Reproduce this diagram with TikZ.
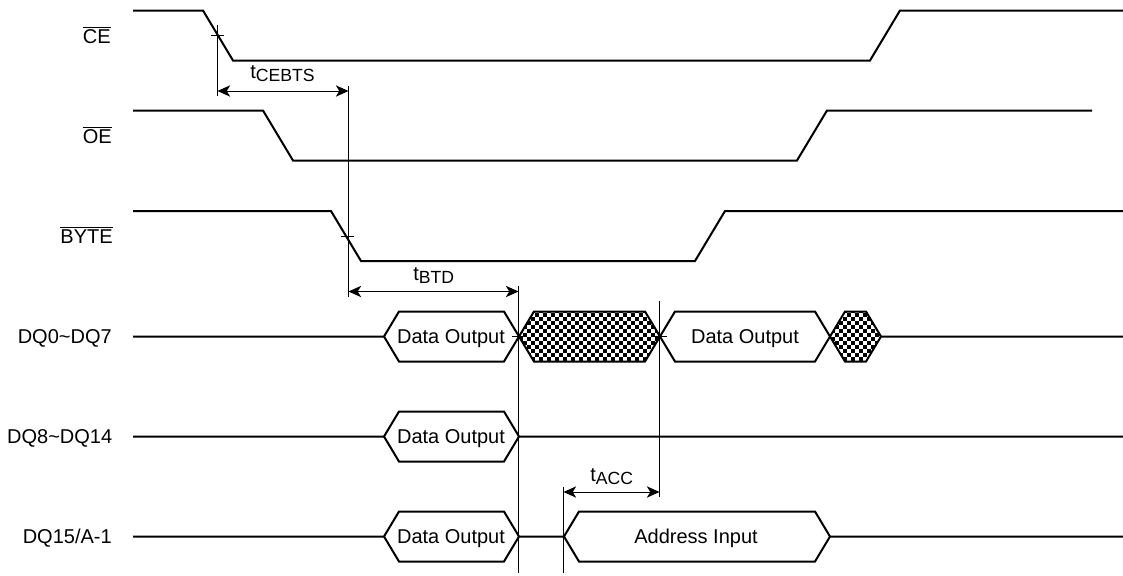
\documentclass[tikz,border=0pt]{standalone}
\usepackage{fontspec}
\setmainfont{Liberation Sans}
\usetikzlibrary{arrows.meta}
\newcommand{\bigtxt}{\fontsize{15}{18}\selectfont}
\newcommand{\subtxt}[1]{{\fontsize{13.2}{15}\selectfont\raisebox{-2.4pt}{#1}}}
\tikzset{
  wave/.style={line width=1.5pt,line join=miter,miter limit=3},
  thinline/.style={line width=0.75pt,draw=black},
  dim/.style={line width=0.75pt,{Stealth[length=9.5pt,width=8.5pt,inset=2.6pt]}-{Stealth[length=9.5pt,width=8.5pt,inset=2.6pt]}},
  siglabel/.style={anchor=base east,inner sep=0pt,font=\bigtxt},
  boxlabel/.style={anchor=base,inner sep=0pt,font=\bigtxt},
  timelabel/.style={anchor=base west,inner sep=0pt,font=\bigtxt}
}
\begin{document}
\begin{tikzpicture}[x=0.75pt,y=-0.75pt]
\useasboundingbox (0,0) rectangle (1123,575);
% checker fills
\begin{scope}
  \clip (519,336.5) -- (534,311.5) -- (645,311.5) -- (660,336.5) -- (645,361.5) -- (534,361.5) -- cycle;
  \foreach \i in {0,...,36}{\foreach \j in {0,...,13}{
    \pgfmathtruncatemacro{\p}{mod(\i+\j,2)}
    \ifnum\p=0 \fill (515+4*\i,309+4*\j) rectangle +(3.6,3.6);\fi}}
\end{scope}
\begin{scope}
  \clip (830,336.5) -- (845,311.5) -- (866,311.5) -- (881,336.5) -- (866,361.5) -- (845,361.5) -- cycle;
  \foreach \i in {0,...,14}{\foreach \j in {0,...,13}{
    \pgfmathtruncatemacro{\p}{mod(\i+\j,2)}
    \ifnum\p=0 \fill (827+4*\i,309+4*\j) rectangle +(3.6,3.6);\fi}}
\end{scope}
% digital lines
\draw[wave] (133,10.5) -- (203,10.5) -- (233,60.5) -- (870,60.5) -- (900,10.5) -- (1123,10.5);
\draw[wave] (133,110.5) -- (263,110.5) -- (293,160.5) -- (797,160.5) -- (827,110.5) -- (1092,110.5);
\draw[wave] (133,211) -- (331,211) -- (361,261) -- (695,261) -- (725,211) -- (1123,211);
% DQ0~DQ7
\draw[wave] (133,336.5) -- (384,336.5) -- (399,311.5) -- (504,311.5) -- (534,361.5) -- (645,361.5) -- (675,311.5) -- (815,311.5) -- (845,361.5) -- (866,361.5) -- (881,336.5) -- (1123,336.5);
\draw[wave] (384,336.5) -- (399,361.5) -- (504,361.5) -- (534,311.5) -- (645,311.5) -- (675,361.5) -- (815,361.5) -- (845,311.5) -- (866,311.5) -- (881,336.5);
% DQ8~DQ14
\draw[wave] (133,436.5) -- (384,436.5) -- (399,411.5) -- (504,411.5) -- (519,436.5) -- (1123,436.5);
\draw[wave] (384,436.5) -- (399,461.5) -- (504,461.5) -- (519,436.5);
% DQ15/A-1
\draw[wave] (133,536.5) -- (384,536.5) -- (399,511.5) -- (504,511.5) -- (519,536.5) -- (564,536.5) -- (579,511.5) -- (815,511.5) -- (830,536.5) -- (1123,536.5);
\draw[wave] (384,536.5) -- (399,561.5) -- (504,561.5) -- (519,536.5);
\draw[wave] (564,536.5) -- (579,561.5) -- (815,561.5) -- (830,536.5);
% timing reference lines
\coordinate (a1) at (217.5,25);   \coordinate (a2) at (217.5,96);
\coordinate (b1) at (348.5,86);   \coordinate (b2) at (348.5,297);
\coordinate (c1) at (518.5,286);  \coordinate (c2) at (518.5,573);
\coordinate (d1) at (659.5,301);  \coordinate (d2) at (659.5,497);
\coordinate (e1) at (563.5,487);  \coordinate (e2) at (563.5,573);
\draw[thinline] (a1) -- (a2);
\draw[thinline] (b1) -- (b2);
\draw[thinline] (c1) -- (c2);
\draw[thinline] (d1) -- (d2);
\draw[thinline] (e1) -- (e2);
\draw[thinline] (211,35.5) -- (224,35.5);
\draw[thinline] (341,236) -- (354,236);
\draw[thinline] (512,336.5) -- (526,336.5);
\draw[thinline] (653,336.5) -- (667,336.5);
% dimension arrows
\draw[dim] (a1 |- 0,91) -- (b1 |- 0,91);
\draw[dim] (b1 |- 0,291.5) -- (c1 |- 0,291.5);
\draw[dim] (e1 |- 0,492) -- (d1 |- 0,492);
% timing labels
\node[timelabel] (tcebts) at (250,78.5) {t\subtxt{CEBTS}};
\node[timelabel] (tbtd) at (413,280.5) {t\subtxt{BTD}};
\node[timelabel] (tacc) at (590,481.5) {t\subtxt{ACC}};
% signal labels
\node[siglabel] (ce) at (111,43.5) {$\overline{\mbox{CE}}$};
\node[siglabel] (oe) at (112,143.5) {$\overline{\mbox{OE}}$};
\node[siglabel] (byte) at (113,243) {$\overline{\mbox{BYTE}}$};
\node[siglabel] (dq0) at (112,343.7) {DQ0\textasciitilde DQ7};
\node[siglabel] (dq8) at (112.5,443.7) {DQ8\textasciitilde DQ14};
\node[siglabel] (dq15) at (112,543.7) {DQ15/A-1};
% bus labels
\node[boxlabel] (o1) at (451,343.5) {Data Output};
\node[boxlabel] (o2) at (745,343.5) {Data Output};
\node[boxlabel] (o3) at (451,443.5) {Data Output};
\node[boxlabel] (o4) at (451,543.5) {Data Output};
\node[boxlabel] (ai) at (696,543.5) {Address Input};
\end{tikzpicture}
\end{document}
